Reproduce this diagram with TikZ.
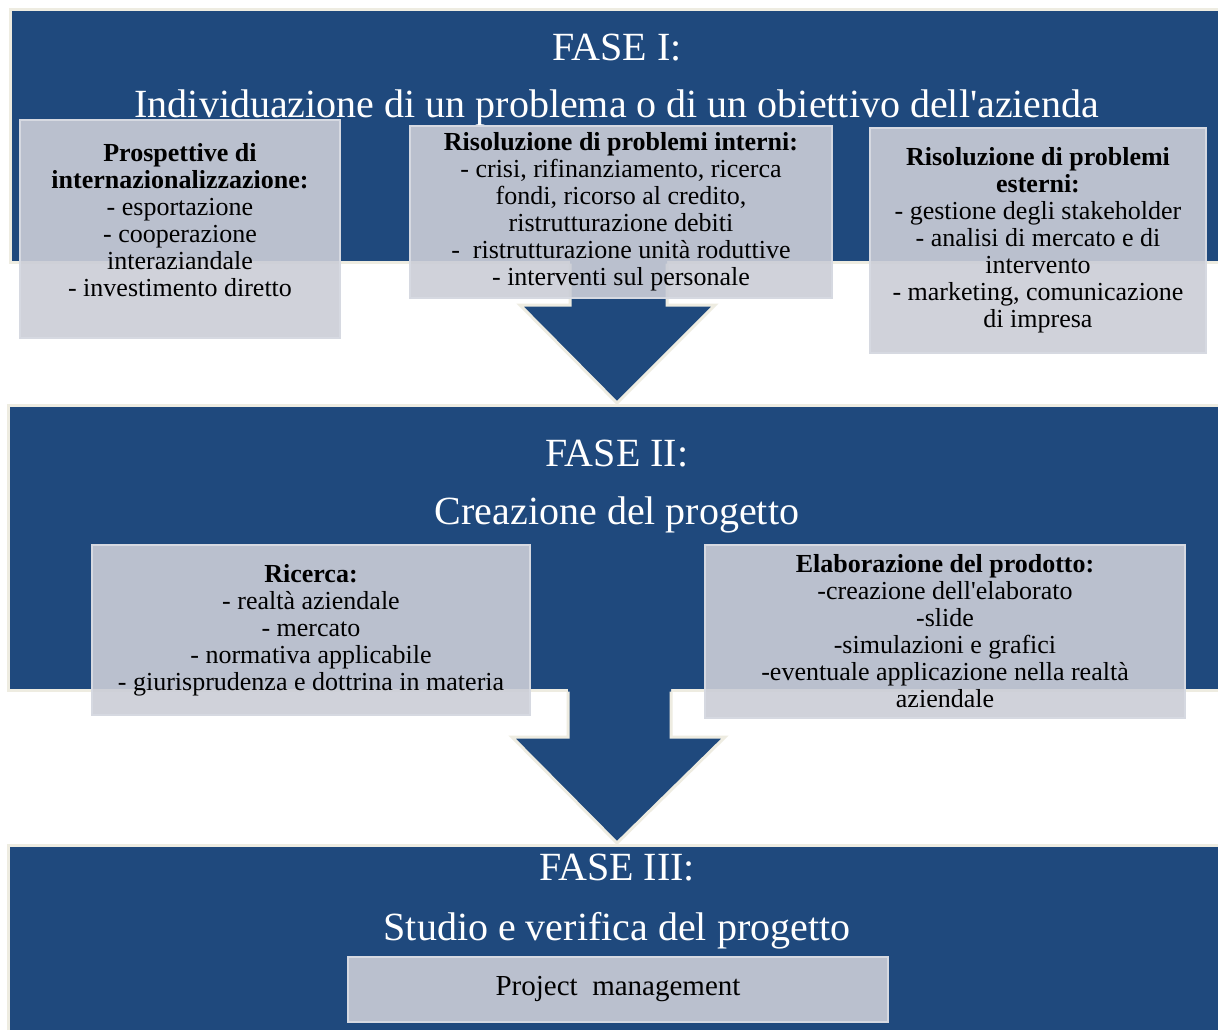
\documentclass[tikz,border=0pt]{standalone}
\usepackage{fontspec}
\setmainfont{Liberation Serif}
\definecolor{faseblue}{RGB}{31,73,125}
\definecolor{faseedge}{RGB}{238,236,225}
\definecolor{boxgrey}{RGB}{203,206,215}
\definecolor{boxedge}{RGB}{214,217,225}

\begin{document}
\begin{tikzpicture}[x=1pt, y=-1pt,
	phase/.style = {fill=faseblue, draw=faseedge, line width=3pt},
	title/.style = {text=white, font=\fontsize{40}{44}\selectfont, inner sep=0pt, anchor=base},
	box/.style = {fill=boxgrey, fill opacity=0.9, text opacity=1, draw=boxedge, line width=1.5pt, align=center, inner sep=0pt, font=\fontsize{26}{27}\selectfont},
	boxtext/.style = {align=center, inner sep=0pt, font=\fontsize{26}{27}\selectfont}]

	\useasboundingbox (0,0) rectangle (1218,1029);
	\fill[white] (0,0) rectangle (1218,1029);

	% the three phases
	\draw[phase] (10,9) rectangle (1230,262);
	\draw[phase] (8,405) rectangle (1230,690);
	\draw[phase] (8,845) rectangle (1230,1040);

	% arrows between phases
	\fill[faseblue] (570,250) -- (570,305) -- (520,305) -- (617,403) -- (715,305) -- (667,305) -- (667,250) -- cycle;
	\draw[faseedge, line width=3pt] (570,263.5) -- (570,305) -- (520,305) -- (617,403) -- (715,305) -- (667,305) -- (667,263.5);
	\fill[faseblue] (568,680) -- (568,737) -- (512,737) -- (617,843) -- (725,737) -- (671,737) -- (671,680) -- cycle;
	\draw[faseedge, line width=3pt] (568,691.5) -- (568,737) -- (512,737) -- (617,843) -- (725,737) -- (671,737) -- (671,691.5);

	\node[title] (f1) at (617,60) {FASE I:};
	\node[title] (f1t) at (617,117) {Individuazione di un problema o di un obiettivo dell\textquotesingle azienda};
	\node[title] (f2) at (617,466) {FASE II:};
	\node[title] (f2t) at (617,524) {Creazione del progetto};
	\node[title] (f3) at (617,880) {FASE III:};
	\node[title] (f3t) at (617,940) {Studio e verifica del progetto};

	\node[box, minimum width=320, minimum height=218] (intern) at (180,229) {};
	\node[boxtext] (interntext) at ([yshift=9pt]intern.center) {\textbf{Prospettive di}\\ \textbf{internazionalizzazione:}\\ - esportazione\\ - cooperazione\\ interaziandale\\ - investimento diretto};
	\node[box, minimum width=422, minimum height=172] (probint) at (621,212) {\textbf{Risoluzione di problemi interni:}\\ - crisi, rifinanziamento, ricerca\\ fondi, ricorso al credito,\\ ristrutturazione debiti\\ - \ ristrutturazione unità roduttive\\ - interventi sul personale};
	\node[box, minimum width=336, minimum height=225] (probest) at (1038,240.5) {\textbf{Risoluzione di problemi}\\ \textbf{esterni:}\\ - gestione degli stakeholder\\ - analisi di mercato e di\\ intervento\\ - marketing, comunicazione\\ di impresa};

	\node[box, minimum width=438, minimum height=170] (ricerca) at (311,630) {\textbf{Ricerca:}\\ - realtà aziendale\\ - mercato\\ - normativa applicabile\\ - giurisprudenza e dottrina in materia};
	\node[box, minimum width=480, minimum height=173] (prodotto) at (945,631.5) {\textbf{Elaborazione del prodotto:}\\ -creazione dell\textquotesingle elaborato\\ -slide\\ -simulazioni e grafici\\ -eventuale applicazione nella realtà\\ aziendale};

	\node[box, minimum width=540, minimum height=65, font=\fontsize{29}{32}\selectfont] (pm) at (618,989.5) {Project \ management};
\end{tikzpicture}
\end{document}
